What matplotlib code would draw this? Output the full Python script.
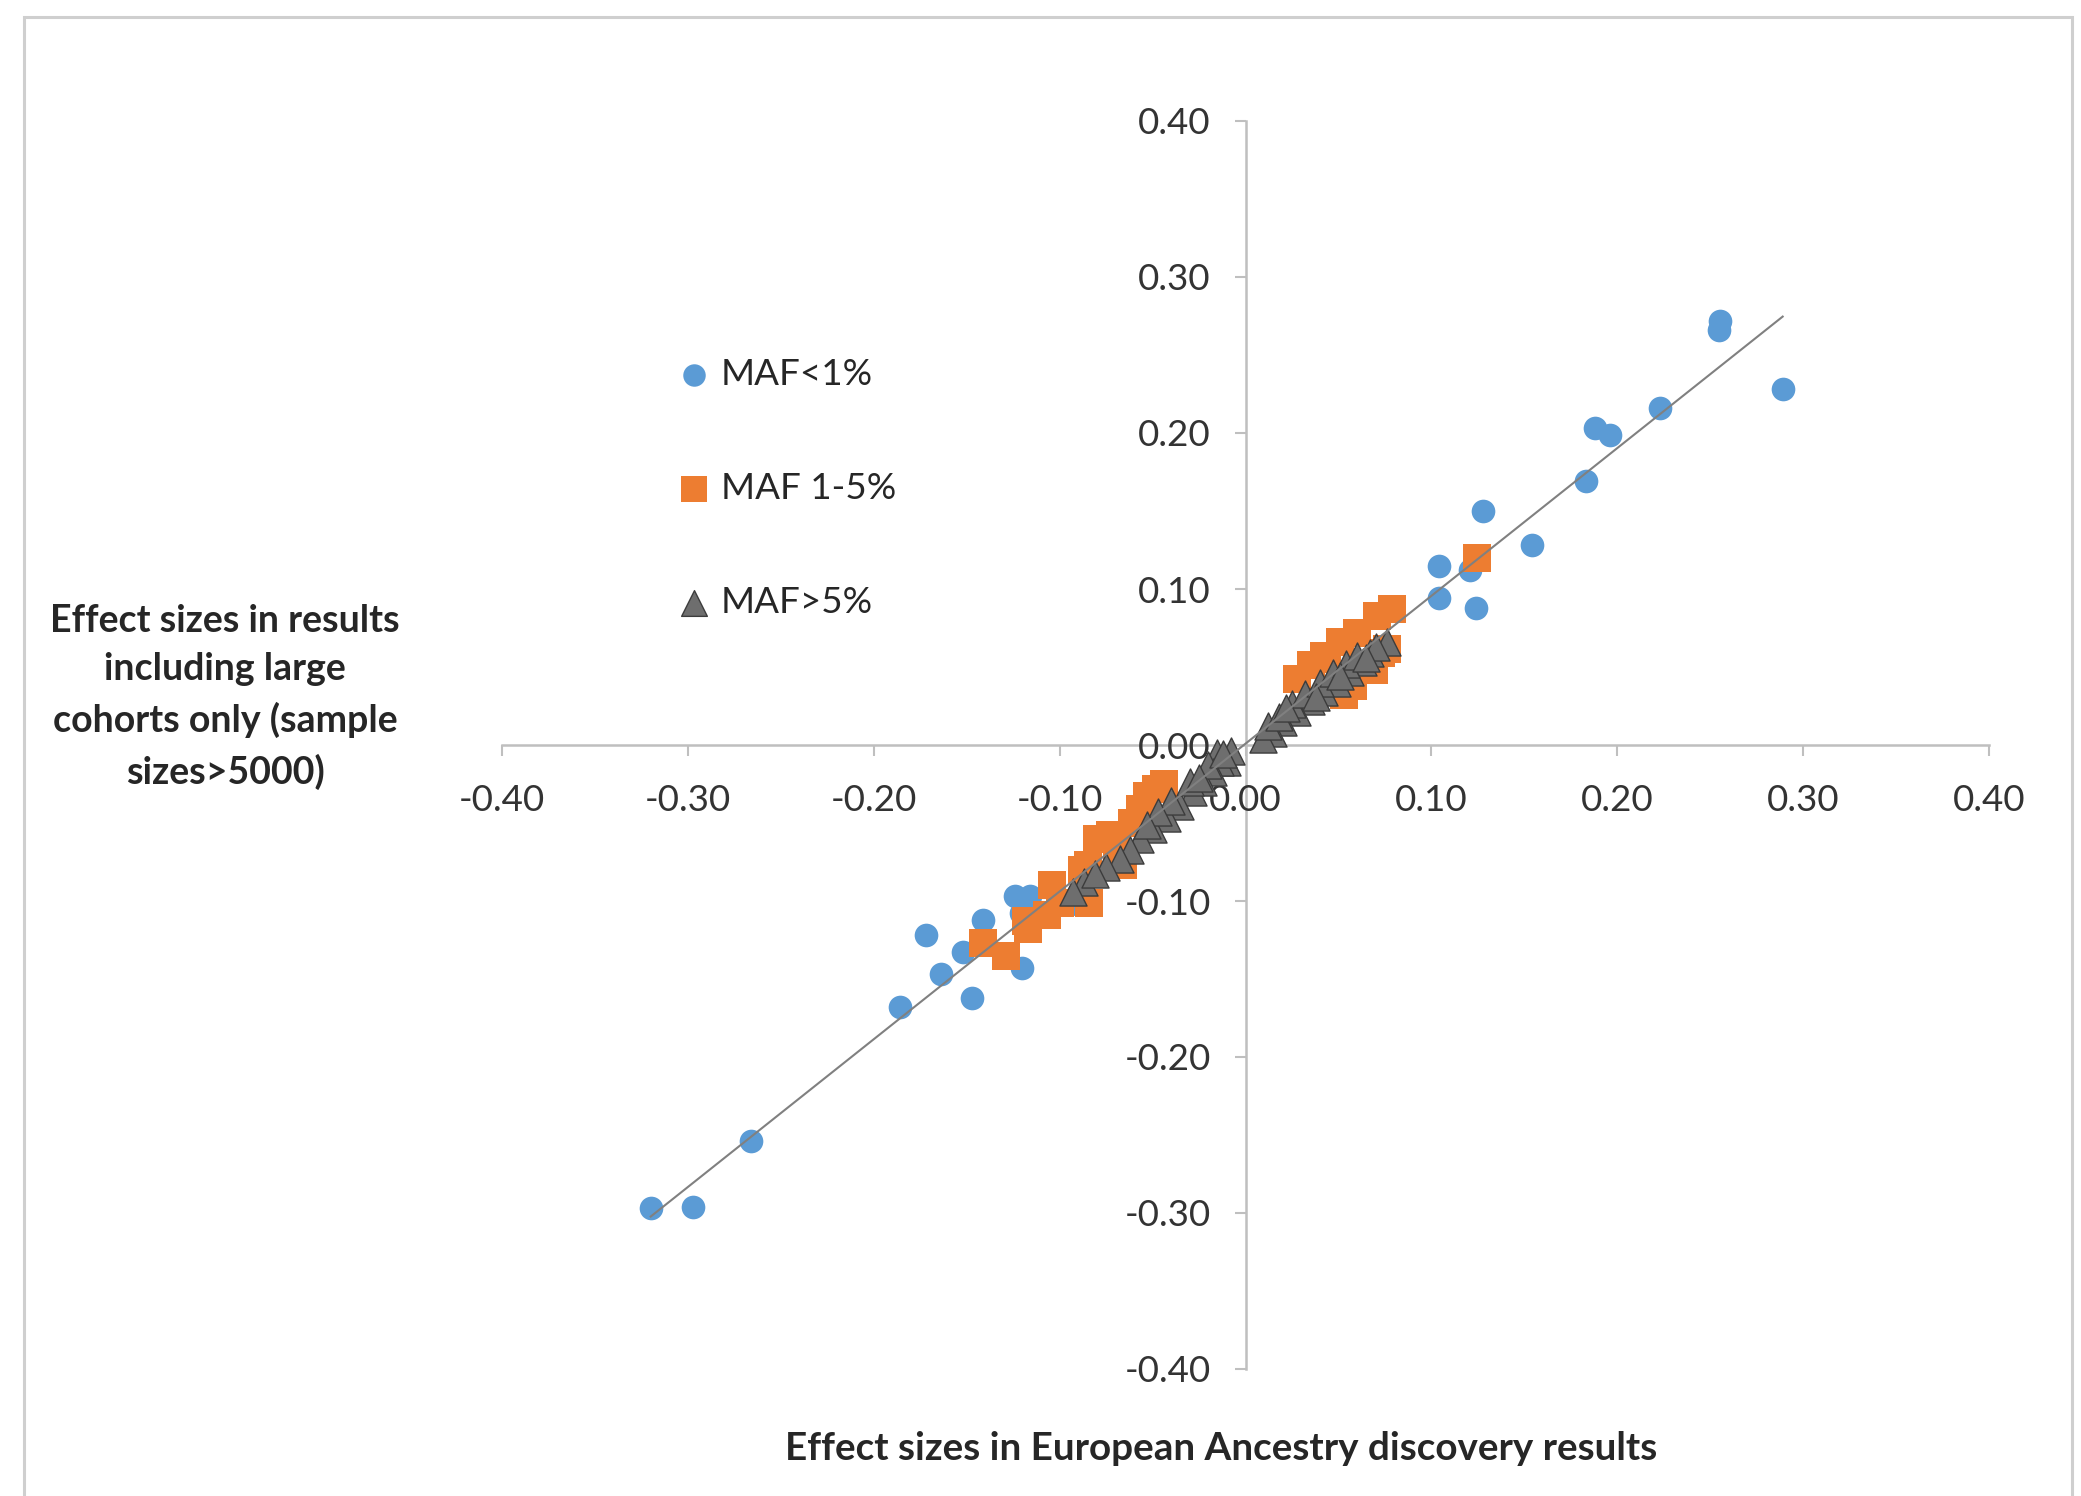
import numpy as np
import matplotlib
matplotlib.use("Agg")
import matplotlib.pyplot as plt
from matplotlib.ticker import FormatStrFormatter
from matplotlib.patches import Rectangle

plt.rcParams['font.family'] = ['Lato', 'DejaVu Sans']

# ---------------- data ----------------
series_labels = ["MAF<1%", "MAF 1-5%", "MAF>5%"]

maf_lt1_x = [-0.320, -0.297, -0.266, -0.186, -0.172, -0.164, -0.152, -0.147, -0.141,
             -0.124, -0.116, -0.120, -0.121, -0.094,
             0.104, 0.121, 0.104, 0.124, 0.128, 0.154, 0.183, 0.188, 0.196, 0.223,
             0.2545, 0.2555, 0.289]
maf_lt1_y = [-0.297, -0.296, -0.254, -0.168, -0.122, -0.147, -0.133, -0.162, -0.112,
             -0.097, -0.097, -0.143, -0.108, -0.102,
             0.115, 0.112, 0.094, 0.088, 0.150, 0.128, 0.169, 0.203, 0.199, 0.216,
             0.266, 0.272, 0.228]

maf_1_5_x = [-0.141, -0.129, -0.117, -0.107, -0.100, -0.084, -0.088, -0.080, -0.069,
             -0.085, -0.066, -0.057, -0.048, -0.053, -0.061, -0.104, -0.118, -0.073,
             -0.044,
             0.0786, 0.0706, 0.060, 0.051, 0.042, 0.035, 0.0275, 0.076, 0.069, 0.058,
             0.053, 0.073, 0.044, 0.1245]
maf_1_5_y = [-0.127, -0.135, -0.118, -0.109, -0.101, -0.101, -0.080, -0.060, -0.065,
             -0.077, -0.077, -0.041, -0.028, -0.033, -0.050, -0.090, -0.113, -0.058,
             -0.025,
             0.087, 0.083, 0.072, 0.066, 0.057, 0.051, 0.042, 0.0615, 0.048, 0.038,
             0.032, 0.059, 0.055, 0.1197]

maf_gt5_x = [-0.010, -0.0155, -0.0137, -0.0173, -0.0227, -0.028, -0.035, -0.042, -0.050,
             -0.057, -0.062, -0.0675, -0.087, -0.0926, -0.075, -0.030, -0.040, -0.020,
             -0.008, -0.047, -0.081, -0.025, -0.053, -0.012,
             0.076, 0.067, 0.063, 0.056, 0.049, 0.042, 0.035, 0.0275, 0.020, 0.015,
             0.0094, 0.012, 0.018, 0.025, 0.032, 0.040, 0.047, 0.054, 0.060, 0.070,
             0.022, 0.038, 0.051, 0.065]
maf_gt5_y = [-0.011, -0.005, -0.011, -0.0175, -0.024, -0.030, -0.039, -0.047, -0.054,
             -0.060, -0.067, -0.073, -0.088, -0.0944, -0.078, -0.024, -0.036, -0.013,
             -0.004, -0.043, -0.083, -0.021, -0.051, -0.006,
             0.066, 0.059, 0.053, 0.047, 0.040, 0.034, 0.028, 0.021, 0.0145, 0.008,
             0.004, 0.012, 0.018, 0.026, 0.033, 0.040, 0.046, 0.052, 0.057, 0.063,
             0.024, 0.031, 0.044, 0.056]

tick_values = [-0.40, -0.30, -0.20, -0.10, 0.00, 0.10, 0.20, 0.30, 0.40]

x_title = "Effect sizes in European Ancestry discovery results"
y_title = "Effect sizes in results\nincluding large\ncohorts only (sample\nsizes>5000)"

# ---------------- figure ----------------
W, H = 2081, 1496
fig = plt.figure(figsize=(W / 100, H / 100), dpi=100)
fig.patch.set_facecolor('white')

left_px, right_px, top_px, bottom_px = 502, 1989, 121, 1369
ax = fig.add_axes([left_px / W, 1 - bottom_px / H,
                   (right_px - left_px) / W, (bottom_px - top_px) / H])

blue = '#5B9BD5'
orange = '#ED7D31'
tri_face = '#6E6E6E'
tri_edge = '#3C3C3C'

ax.scatter(maf_lt1_x, maf_lt1_y, s=290, marker='o', color=blue, linewidths=0,
           label=series_labels[0], zorder=3)
ax.scatter(maf_1_5_x, maf_1_5_y, s=380, marker='s', color=orange, linewidths=0,
           label=series_labels[1], zorder=4)
ax.scatter(maf_gt5_x, maf_gt5_y, s=380, marker='^', facecolor=tri_face,
           edgecolor=tri_edge, linewidths=1.0, label=series_labels[2], zorder=5)

# linear trendline over all points
all_x = np.array(maf_lt1_x + maf_1_5_x + maf_gt5_x)
all_y = np.array(maf_lt1_y + maf_1_5_y + maf_gt5_y)
slope, intercept = np.polyfit(all_x, all_y, 1)
tx = np.array([all_x.min(), all_x.max()])
ax.plot(tx, slope * tx + intercept, color='#808080', lw=1.5, zorder=6)

ax.set_xlim(-0.40, 0.40)
ax.set_ylim(-0.40, 0.40)
ax.set_xticks(tick_values)
ax.set_yticks(tick_values)
ax.xaxis.set_major_formatter(FormatStrFormatter('%.2f'))
ax.yaxis.set_major_formatter(FormatStrFormatter('%.2f'))

for side in ['top', 'right']:
    ax.spines[side].set_visible(False)
ax.spines['left'].set_position(('data', 0))
ax.spines['bottom'].set_position(('data', 0))
for side in ['left', 'bottom']:
    ax.spines[side].set_color('#BFBFBF')
    ax.spines[side].set_linewidth(1.8)
    ax.spines[side].set_zorder(1)

ax.tick_params(axis='both', direction='out', length=8, width=1.5, color='#BFBFBF',
               labelsize=26.5, labelcolor='#333333')
ax.tick_params(axis='x', pad=20)
ax.tick_params(axis='y', pad=17)
ax.patch.set_alpha(0)

# legend
leg = fig.legend(loc='upper left', bbox_to_anchor=(676 / W, 1 - 358 / H),
                 frameon=False, fontsize=26.5, handlelength=1.0, handletextpad=0.22,
                 labelspacing=2.2, borderpad=0, borderaxespad=0, markerscale=0.95,
                 scatterpoints=1)
for t in leg.get_texts():
    t.set_color('#262626')

# axis titles
fig.text(225 / W, 1 - 697 / H, y_title, ha='center', va='center', multialignment='center',
         fontsize=27, fontweight='bold', color='#262626', linespacing=1.52)
fig.text(1221 / W, 1 - 1449 / H, x_title, ha='center', va='center',
         fontsize=27.8, fontweight='bold', color='#262626')

# chart-area frame
fig.add_artist(Rectangle((24 / W, -0.05), (2072 - 24) / W, 1 - 17 / H + 0.05,
                         transform=fig.transFigure, fill=False, edgecolor='#CFCFCF',
                         lw=2.2))

fig.savefig('out.png', dpi=100, facecolor='white')
